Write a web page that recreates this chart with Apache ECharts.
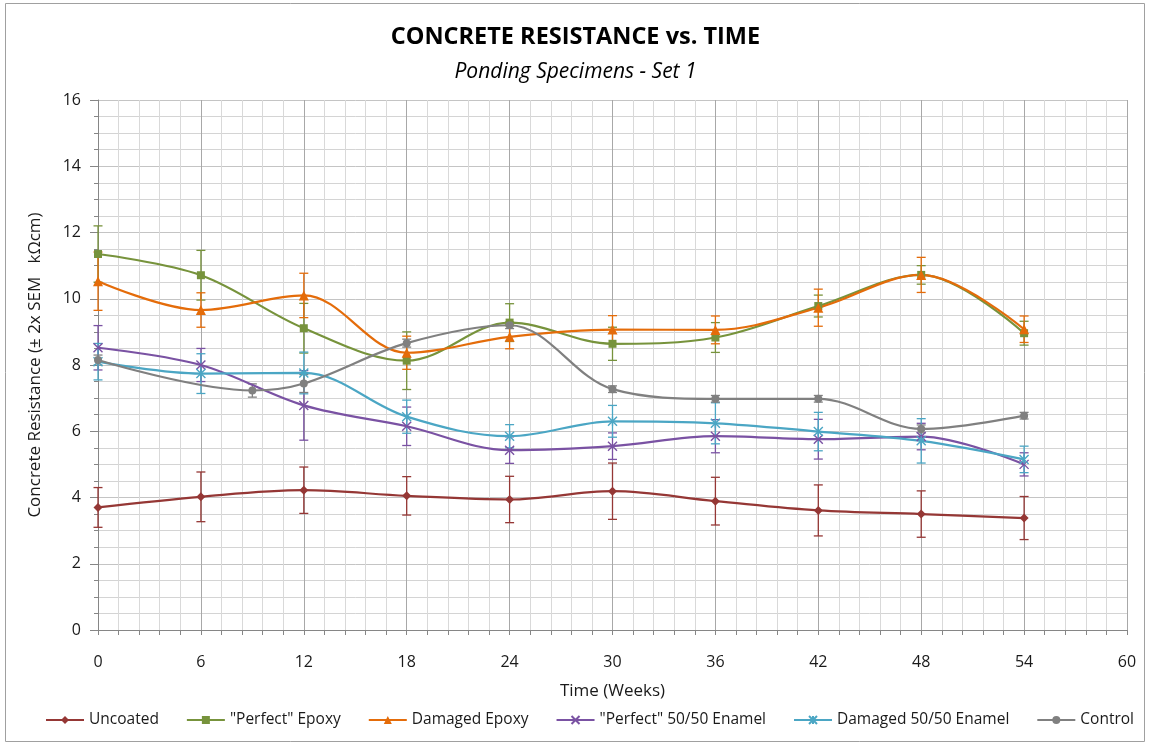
<!DOCTYPE html>
<html>
<head>
<meta charset="utf-8">
<script src="https://cdn.jsdelivr.net/npm/echarts@6/dist/echarts.min.js"></script>
<style>
  html, body { margin: 0; padding: 0; background: #fff; }
  #chart { width: 1151px; height: 744px; }
</style>
</head>
<body>
<div id="chart"></div>
<script>
// Measurement weeks
const weeks = [0, 6, 12, 18, 24, 30, 36, 42, 48, 54];
const controlWeeks = [0, 9, 12, 18, 24, 30, 36, 42, 48, 54];

// Mean concrete resistance (kOhm·cm) and ±2×SEM
const uncoated      = [3.70, 4.02, 4.22, 4.05, 3.94, 4.19, 3.89, 3.61, 3.50, 3.38];
const uncoatedErr   = [0.60, 0.75, 0.70, 0.58, 0.70, 0.85, 0.72, 0.77, 0.70, 0.65];
const perfEpoxy     = [11.35, 10.71, 9.11, 8.13, 9.28, 8.64, 8.83, 9.78, 10.72, 8.96];
const perfEpoxyErr  = [0.85, 0.75, 0.75, 0.87, 0.57, 0.50, 0.45, 0.33, 0.28, 0.36];
const dmgEpoxy      = [10.53, 9.66, 10.10, 8.37, 8.85, 9.07, 9.06, 9.73, 10.72, 9.08];
const dmgEpoxyErr   = [0.88, 0.52, 0.67, 0.50, 0.36, 0.42, 0.42, 0.56, 0.53, 0.40];
const perfEnamel    = [8.52, 8.00, 6.78, 6.15, 5.43, 5.55, 5.85, 5.76, 5.84, 5.00];
const perfEnamelErr = [0.67, 0.50, 1.05, 0.58, 0.40, 0.40, 0.50, 0.60, 0.40, 0.35];
const dmgEnamel     = [8.10, 7.74, 7.76, 6.44, 5.85, 6.30, 6.24, 5.99, 5.71, 5.15];
const dmgEnamelErr  = [0.55, 0.60, 0.63, 0.50, 0.35, 0.48, 0.62, 0.58, 0.67, 0.40];
const control       = [8.15, 7.23, 7.44, 8.66, 9.20, 7.27, 6.98, 6.98, 6.07, 6.47];
const controlErr    = [0.15, 0.20, 0.27, 0.12, 0.10, 0.10, 0.10, 0.10, 0.12, 0.10];

const xTicks = [0, 6, 12, 18, 24, 30, 36, 42, 48, 54, 60];
const yTicks = [0, 2, 4, 6, 8, 10, 12, 14, 16];

const seriesDefs = [
  { name: 'Uncoated', x: weeks, y: uncoated, e: uncoatedErr, color: '#953735', symbol: 'diamond', size: 9 },
  { name: '"Perfect" Epoxy', x: weeks, y: perfEpoxy, e: perfEpoxyErr, color: '#77933C', symbol: 'rect', size: 8 },
  { name: 'Damaged Epoxy', x: weeks, y: dmgEpoxy, e: dmgEpoxyErr, color: '#E46C0A', symbol: 'triangle', size: 10 },
  { name: '"Perfect" 50/50 Enamel', x: weeks, y: perfEnamel, e: perfEnamelErr, color: '#7A52A3',
    symbol: 'path://M0,0L10,10M10,0L0,10', size: 9, stroke: true },
  { name: 'Damaged 50/50 Enamel', x: weeks, y: dmgEnamel, e: dmgEnamelErr, color: '#4BA6C4',
    symbol: 'path://M0,0L10,10M10,0L0,10M5,0L5,10', size: 9, stroke: true },
  { name: 'Control', x: controlWeeks, y: control, e: controlErr, color: '#808080', symbol: 'circle', size: 8 }
];

function errorBarRenderer(color) {
  return function (params, api) {
    const x = api.value(0), y = api.value(1), e = api.value(2);
    const top = api.coord([x, y + e]);
    const bot = api.coord([x, y - e]);
    const cap = 4.5;
    const style = { stroke: color, lineWidth: 1.3 };
    return {
      type: 'group',
      children: [
        { type: 'line', shape: { x1: top[0], y1: top[1], x2: bot[0], y2: bot[1] }, style: style },
        { type: 'line', shape: { x1: top[0] - cap, y1: top[1], x2: top[0] + cap, y2: top[1] }, style: style },
        { type: 'line', shape: { x1: bot[0] - cap, y1: bot[1], x2: bot[0] + cap, y2: bot[1] }, style: style }
      ]
    };
  };
}

const series = [];
seriesDefs.forEach(function (d) {
  series.push({
    name: d.name + ' error',
    type: 'custom',
    renderItem: errorBarRenderer(d.color),
    data: d.x.map(function (w, i) { return [w, d.y[i], d.e[i]]; }),
    encode: { x: 0, y: 1 },
    z: 2,
    silent: true
  });
});
seriesDefs.forEach(function (d) {
  series.push({
    name: d.name,
    type: 'line',
    smooth: 0.35,
    data: d.x.map(function (w, i) { return [w, d.y[i]]; }),
    symbol: d.symbol,
    symbolSize: d.size,
    showAllSymbol: true,
    lineStyle: { color: d.color, width: 2.2 },
    itemStyle: d.stroke
      ? { color: d.color, borderColor: d.color, borderWidth: 1.4 }
      : { color: d.color, borderColor: d.color, borderWidth: 0 },
    z: 3,
    animation: false
  });
});

const labelFont = { fontFamily: 'Open Sans', fontSize: 16, color: '#1a1a1a' };

const chart = echarts.init(document.getElementById('chart'), null, { renderer: 'canvas' });
chart.setOption({
  animation: false,
  backgroundColor: '#ffffff',
  title: [
    {
      text: 'CONCRETE RESISTANCE vs. TIME',
      left: 'center', top: 20,
      textStyle: { fontFamily: 'Open Sans', fontWeight: 'bold', fontSize: 23.5, color: '#000' }
    },
    {
      text: 'Ponding Specimens - Set 1',
      left: 'center', top: 57,
      textStyle: { fontFamily: 'Open Sans', fontStyle: 'italic', fontWeight: 'normal', fontSize: 21, color: '#000' }
    }
  ],
  graphic: [{
    type: 'rect',
    shape: { x: 5.5, y: 3.5, width: 1139, height: 738 },
    style: { fill: 'none', stroke: '#a0a0a0', lineWidth: 1 },
    silent: true
  }],
  grid: { left: 98, right: 24, top: 100, bottom: 114 },
  legend: {
    data: seriesDefs.map(function (d) { return d.name; }),
    left: 40, top: 707,
    itemWidth: 38, itemHeight: 10, itemGap: 27,
    textStyle: { fontFamily: 'Open Sans', fontSize: 15.5, color: '#1a1a1a' }
  },
  xAxis: {
    type: 'value',
    min: 0, max: 60, interval: 6,
    name: 'Time (Weeks)',
    nameLocation: 'middle', nameGap: 53,
    nameTextStyle: { fontFamily: 'Open Sans', fontSize: 17, color: '#1a1a1a' },
    axisLine: { show: true, lineStyle: { color: '#868686', width: 1 } },
    axisTick: { show: true, length: 5, lineStyle: { color: '#868686' } },
    minorTick: { show: true, splitNumber: 5, length: 5, lineStyle: { color: '#868686' } },
    axisLabel: Object.assign({ margin: 24, formatter: function (v) { return xTicks.indexOf(v) >= 0 ? String(v) : ''; } }, labelFont),
    splitLine: { show: true, lineStyle: { color: '#a8a8a8', width: 1 } },
    minorSplitLine: { show: true, lineStyle: { color: '#d9d9d9', width: 1 } }
  },
  yAxis: {
    type: 'value',
    min: 0, max: 16, interval: 2,
    name: 'Concrete Resistance (± 2x SEM   kΩcm)',
    nameLocation: 'middle', nameGap: 54, nameRotate: 90,
    nameTextStyle: { fontFamily: 'Open Sans', fontSize: 17, color: '#1a1a1a' },
    axisLine: { show: true, lineStyle: { color: '#868686', width: 1 } },
    axisTick: { show: true, length: 8, lineStyle: { color: '#868686' } },
    minorTick: { show: true, splitNumber: 4, length: 4, lineStyle: { color: '#868686' } },
    axisLabel: Object.assign({ margin: 17, formatter: function (v) { return yTicks.indexOf(v) >= 0 ? String(v) : ''; } }, labelFont),
    splitLine: { show: true, lineStyle: { color: '#c4c4c4', width: 1 } },
    minorSplitLine: { show: true, lineStyle: { color: '#d4d4d4', width: 1 } }
  },
  series: series
});
</script>
</body>
</html>
